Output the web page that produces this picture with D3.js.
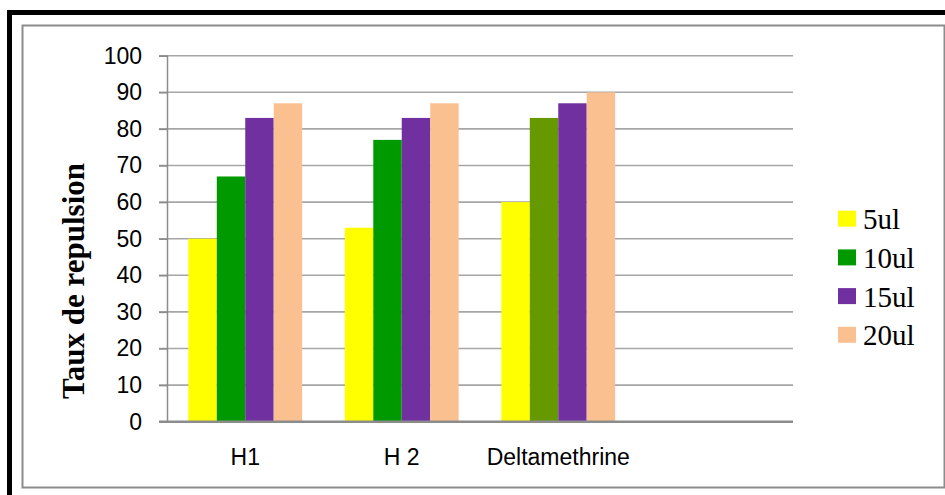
<!DOCTYPE html>
<html><head><meta charset="utf-8">
<script src="https://cdn.jsdelivr.net/npm/d3@7"></script>
<style>body{margin:0;background:#fff}svg{display:block}</style>
</head><body>
<script>
const categories = ["H1", "H 2", "Deltamethrine", ""];
const series = ["5ul", "10ul", "15ul", "20ul"];
const v5 = [50, 53, 60, null];
const v10 = [67, 77, 83, null];
const v15 = [83, 83, 87, null];
const v20 = [87, 87, 90, null];
const yTicks = [0,10,20,30,40,50,60,70,80,90,100];
const values = [v5, v10, v15, v20];
const colors = ["#FFFF00", "#009900", "#7030A0", "#FAC090"];
// Deltamethrine 10ul bar drawn in olive in the original
const overrideColor = {"Deltamethrine|10ul": "#669900"};

const W = 945, H = 495;
const svg = d3.select("body").append("svg").attr("width", W).attr("height", H);

// frames
svg.append("rect").attr("x", 22.5).attr("y", 25.5).attr("width", 922).attr("height", 462)
  .attr("fill", "#fff").attr("stroke", "#8c8c8c").attr("stroke-width", 2);
svg.append("rect").attr("x", 7).attr("y", 10).attr("width", 938).attr("height", 5).attr("fill", "#000");
svg.append("rect").attr("x", 7).attr("y", 10).attr("width", 5).attr("height", 485).attr("fill", "#000");

const x0 = 167, x1 = 793, yTop = 55.7, yBot = 421.7;
const x = d3.scaleBand().domain(categories.map((c,i)=>i)).range([x0, x1]).paddingInner(0).paddingOuter(0);
const y = d3.scaleLinear().domain([0, 100]).range([yBot, yTop]);

// grid
const g = svg.append("g");
yTicks.forEach(t => {
  if (t === 0) return;
  g.append("line").attr("x1", 159).attr("x2", x1).attr("y1", y(t)).attr("y2", y(t))
    .attr("stroke", "#a6a6a6").attr("stroke-width", 1.6);
});

// y axis
const yAxis = d3.axisLeft(y).tickValues(yTicks).tickSize(8).tickPadding(17);
const ya = svg.append("g").attr("transform", `translate(${x0},0)`).call(yAxis);
ya.select(".domain").attr("stroke", "#8c8c8c").attr("stroke-width", 1.5);
ya.selectAll(".tick line").attr("stroke", "#8c8c8c").attr("stroke-width", 1.5);
ya.selectAll(".tick text").attr("font-family", "'Liberation Sans', Arial, sans-serif")
  .attr("font-size", 23).attr("fill", "#000");

// bars
const bw = x.bandwidth() / 5.5;
categories.forEach((c, ci) => {
  series.forEach((s, si) => {
    const v = values[si][ci];
    if (v == null) return;
    const bx = x(ci) + 0.75 * bw + si * bw;
    svg.append("rect").attr("x", bx).attr("y", y(v)).attr("width", bw).attr("height", y(0) - y(v))
      .attr("fill", overrideColor[c + "|" + s] || colors[si]);
  });
});

// x axis
const xAxis = d3.axisBottom(x).tickFormat(i => categories[i]).tickSize(0).tickPadding(27);
const xa = svg.append("g").attr("transform", `translate(0,${yBot})`).call(xAxis);
xa.select(".domain").remove();
svg.append("line").attr("x1", 159).attr("x2", x1).attr("y1", yBot).attr("y2", yBot)
  .attr("stroke", "#8c8c8c").attr("stroke-width", 2.5);
xa.selectAll(".tick text").attr("font-family", "'Liberation Sans', Arial, sans-serif")
  .attr("font-size", 23).attr("fill", "#000");

// y title
svg.append("text").attr("transform", `translate(84,${281}) rotate(-90)`)
  .attr("text-anchor", "middle").attr("font-family", "'Liberation Serif', 'Times New Roman', serif")
  .attr("font-weight", "bold").attr("font-size", 31).attr("fill", "#000").text("Taux de repulsion");

// legend
const lg = svg.append("g");
series.forEach((s, i) => {
  const yy = 210.7 + i * 38.7;
  lg.append("rect").attr("x", 838).attr("y", yy).attr("width", 18).attr("height", 16).attr("fill", colors[i]);
  lg.append("text").attr("x", 863).attr("y", yy + 18.5)
    .attr("font-family", "'Liberation Serif', 'Times New Roman', serif")
    .attr("font-size", 29).attr("fill", "#000").text(s);
});
</script>
</body></html>
